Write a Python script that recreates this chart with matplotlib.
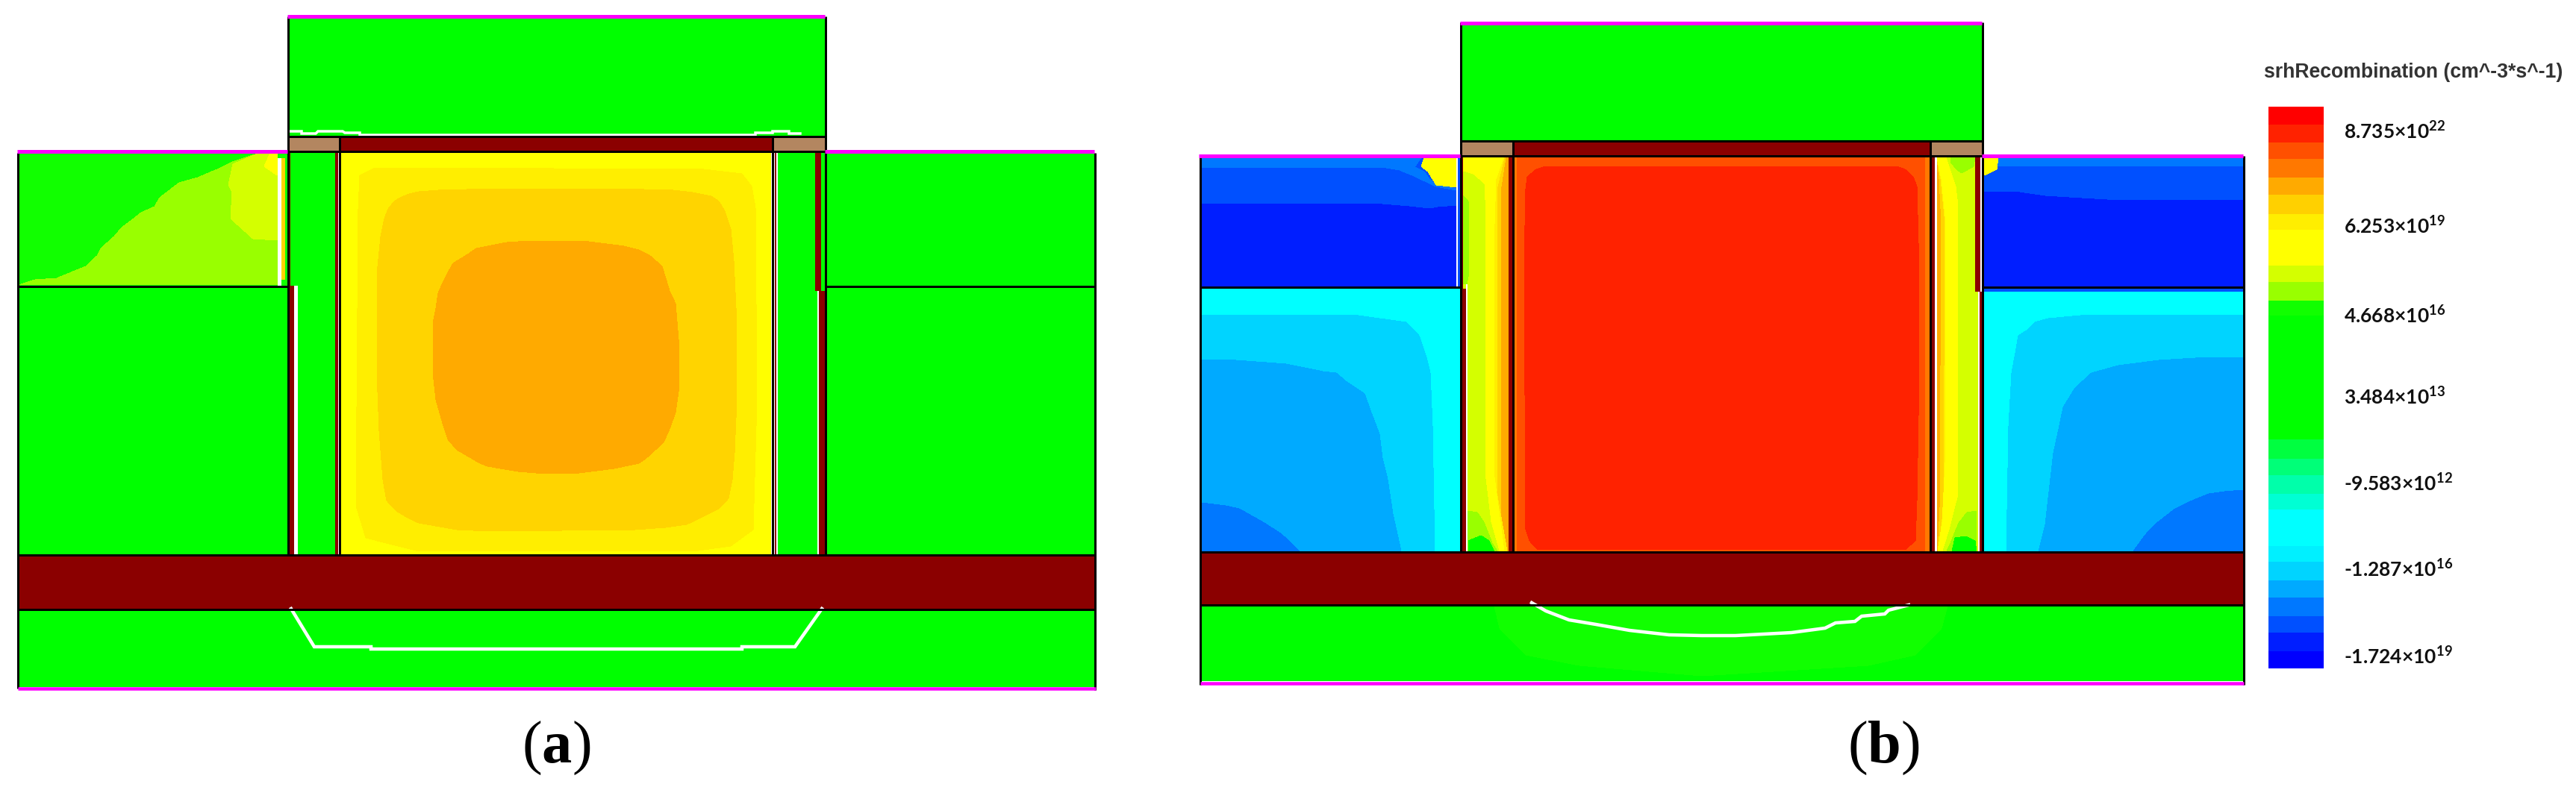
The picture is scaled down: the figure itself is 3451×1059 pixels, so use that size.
import matplotlib
matplotlib.use('Agg')
import matplotlib.pyplot as plt

plt.rcParams['mathtext.fontset'] = 'custom'
plt.rcParams['mathtext.bf'] = 'Liberation Serif:bold'
plt.rcParams['mathtext.default'] = 'regular'

GREEN = '#00FF00'; GREEN2 = '#11FF00'; LIME = '#99FF00'; LIME2 = '#D4FF00'
YEL = '#FFFF00'; YEL2 = '#FFEE00'; GOLD = '#FFD400'; ORANGE = '#FFAA00'; ORANGE2 = '#FF7800'
RED3 = '#FF5000'; RED2 = '#FF2200'
CYAN = '#00FFFF'; SKY = '#00D4FF'; SKY2 = '#00AAFF'; BLUE3 = '#0078FF'; BLUE2 = '#0050FF'; BLUE1 = '#001EFF'
DARKRED = '#8B0000'; BROWN = '#B38660'; MAGENTA = '#FF00FF'

# colour scale (edges in picture pixels)
bar_edges = [143, 167, 191, 213, 238, 261, 287, 308, 356, 378, 403, 423, 589,
             615, 637, 662, 683, 732, 753, 778, 801, 826, 848, 873, 896]
bar_colors = ['#FF0000', RED2, RED3, ORANGE2, ORANGE, '#FFD000', YEL2, YEL, LIME2, LIME, GREEN2, GREEN,
              '#00FF40', '#00FF78', '#00FFAA', '#00FFD4', CYAN, '#00F0FF', SKY, SKY2, BLUE3, BLUE2, BLUE1, '#0000FF']
bar_labels = ['8.735×10$^{22}$', '6.253×10$^{19}$', '4.668×10$^{16}$', '3.484×10$^{13}$',
              '-9.583×10$^{12}$', '-1.287×10$^{16}$', '-1.724×10$^{19}$']
bar_label_y = [176, 303, 423, 532, 648, 763, 880]

# (a) contour outlines of the field
a_core_yel2 = [(541, 225), (500, 226), (482, 235), (480, 280), (477, 678), (490, 721), (561, 739), (928, 739),
               (979, 732), (1009, 710), (1014, 536), (1012, 278), (1007, 250), (994, 233), (943, 227)]
a_core_gold = [(587, 255), (561, 257), (548, 260), (536, 265), (528, 270), (520, 280), (515, 293), (510, 317),
               (508, 337), (505, 367), (505, 500), (508, 578), (513, 643), (518, 671), (531, 685), (546, 694),
               (561, 701), (612, 710), (656, 712), (851, 710), (892, 707), (920, 703), (943, 692), (963, 682),
               (976, 668), (981, 643), (984, 607), (987, 536), (986, 413), (983, 350), (979, 307), (971, 283),
               (963, 270), (953, 263), (928, 258), (902, 255), (823, 253), (663, 253)]
a_core_orange = [(709, 323), (679, 325), (663, 328), (638, 333), (628, 340), (607, 353), (599, 367), (594, 377),
                 (587, 393), (584, 413), (580, 433), (580, 500), (584, 536), (594, 571), (600, 589), (612, 603),
                 (643, 621), (653, 625), (694, 632), (730, 635), (776, 634), (823, 628), (856, 621), (866, 614),
                 (889, 593), (897, 575), (905, 553), (910, 518), (910, 467), (905, 407), (897, 390), (887, 357),
                 (871, 343), (856, 335), (836, 330), (813, 327), (781, 323)]
a_left_lime = [(25, 382), (47, 375), (76, 373), (115, 357), (130, 343), (135, 333), (153, 317), (163, 305),
               (179, 293), (189, 285), (207, 277), (214, 265), (240, 245), (265, 238), (291, 227), (311, 217),
               (342, 207), (367, 205), (372, 205), (372, 382)]
a_left_lime2 = [(362, 205), (347, 205), (312, 220), (306, 248), (311, 257), (309, 293), (339, 320), (372, 322), (372, 205)]
a_left_yel = [(362, 205), (354, 223), (371, 235), (372, 205)]
a_white_top = [(387, 176), (404, 176), (404, 179), (423, 179), (426, 176), (459, 176), (462, 178), (482, 178),
               (482, 181), (1012, 181), (1012, 178), (1035, 178), (1035, 176), (1057, 176), (1057, 179), (1072, 179)]
a_white_bottom = [(390, 816), (421, 867), (497, 867), (497, 870), (994, 870), (994, 867), (1065, 867), (1101, 816)]

# (b) contour outlines of the field
b_core_red = [(2071, 223), (2058, 227), (2046, 237), (2044, 253), (2042, 350), (2044, 710), (2049, 725), (2060, 737),
              (2552, 737), (2566, 725), (2568, 671), (2571, 500), (2570, 325), (2568, 250), (2563, 237), (2552, 227), (2541, 223)]
b_ul_band2 = [(1609, 211), (1951, 211), (1951, 275), (1926, 277), (1915, 279), (1888, 276), (1852, 273), (1609, 273)]
b_ul_band3 = [(1609, 211), (1904, 211), (1895, 224), (1908, 230), (1915, 240), (1924, 248), (1951, 253), (1951, 255),
              (1924, 250), (1892, 235), (1875, 228), (1857, 225), (1609, 225)]
b_ul_yel = [(1908, 211), (1904, 223), (1913, 230), (1924, 248), (1951, 251), (1951, 211)]
b_ll_sky = [(1609, 422), (1812, 422), (1848, 427), (1884, 432), (1892, 440), (1901, 450), (1908, 470), (1912, 483),
            (1916, 500), (1919, 571), (1922, 739), (1609, 739)]
b_ll_sky2 = [(1609, 482), (1656, 483), (1723, 488), (1772, 498), (1790, 500), (1803, 511), (1828, 528), (1837, 553),
             (1848, 582), (1852, 614), (1859, 643), (1866, 689), (1877, 739), (1609, 739)]
b_ll_blue = [(1609, 674), (1642, 678), (1660, 682), (1692, 700), (1714, 714), (1727, 725), (1741, 739), (1609, 739)]
b_ur_yel = [(2658, 211), (2677, 211), (2675, 227), (2659, 235)]
b_ur_band2 = [(2658, 223), (3005, 223), (3005, 268), (2840, 268), (2789, 265), (2740, 262), (2706, 257), (2658, 256)]
b_lr_sky = [(3005, 422), (2798, 422), (2744, 427), (2726, 432), (2715, 443), (2704, 450), (2700, 473), (2695, 500),
            (2691, 571), (2688, 739), (3005, 739)]
b_lr_sky2 = [(3005, 479), (2941, 480), (2892, 483), (2838, 490), (2802, 500), (2780, 520), (2764, 546), (2758, 575),
             (2751, 607), (2746, 650), (2740, 703), (2731, 739), (3005, 739)]
b_lr_blue = [(3005, 657), (2980, 659), (2959, 662), (2932, 673), (2914, 682), (2887, 703), (2874, 717), (2858, 739), (3005, 739)]
b_bot_green2 = [(2002, 812), (2609, 812), (2601, 842), (2566, 878), (2503, 892), (2280, 906), (2116, 892), (2044, 878), (2009, 842)]
b_white_curve = [(2052, 808), (2071, 819), (2102, 831), (2138, 837), (2183, 845), (2236, 851), (2280, 852), (2325, 852),
                 (2400, 848), (2445, 842), (2459, 835), (2485, 833), (2494, 826), (2525, 823), (2530, 818), (2557, 811)]

# (b) left fin
bl_gold = [(1960, 211), (2017, 211), (2011, 250), (2010, 690), (2018, 739), (1960, 739)]
bl_yel2 = [(1960, 211), (2015, 211), (2006, 250), (2005, 660), (2019, 739), (1960, 739)]
bl_yel = [(1960, 211), (2014, 211), (2004, 240), (2002, 300), (2002, 640), (2015, 739), (1960, 739)]
bl_lime2 = [(1960, 230), (1973, 234), (1988, 247), (1990, 290), (1990, 642), (1997, 700), (2008, 739), (1960, 739)]
bl_lime_top = [(1960, 262), (1967, 270), (1968, 365), (1965, 381), (1960, 381)]
bl_lime_bot = [(1966, 685), (1979, 687), (1988, 700), (1999, 728), (2006, 739), (1966, 739)]
bl_green = [(1967, 725), (1984, 718), (1995, 725), (2002, 739), (1967, 739)]

# (b) right fin
br_gold = [(2595, 211), (2652, 211), (2652, 739), (2596, 739), (2599, 680), (2601, 300), (2598, 240)]
br_yel2 = [(2595, 211), (2652, 211), (2652, 739), (2597, 739), (2604, 680), (2606, 300), (2600, 240)]
br_yel = [(2595, 211), (2652, 211), (2652, 739), (2596, 739), (2602, 700), (2606, 620), (2607, 300), (2601, 240)]
br_lime2 = [(2608, 211), (2621, 250), (2623, 267), (2623, 667), (2612, 710), (2603, 739), (2652, 739), (2652, 211)]
br_lime_top = [(2613, 212), (2646, 211), (2644, 223), (2628, 232), (2621, 227), (2613, 217)]
br_lime_bot = [(2648, 685), (2635, 687), (2624, 701), (2613, 728), (2608, 739), (2648, 739)]
br_green = [(2615, 739), (2619, 721), (2633, 719), (2646, 725), (2648, 739)]

fig = plt.figure(figsize=(34.51, 10.59), dpi=100)
ax = fig.add_axes([0, 0, 1, 1])
ax.set_xlim(0, 3451); ax.set_ylim(1059, 0); ax.axis('off')


def poly(pts, c):
    xs, ys = zip(*pts)
    ax.fill(xs, ys, color=c, lw=0, antialiased=False)


def rect(x0, x1, y0, y1, c):
    poly([(x0, y0), (x1, y0), (x1, y1), (x0, y1)], c)


def vline(x, y0, y1, c='black', w=3):
    ax.plot([x, x], [y0, y1], color=c, lw=w * 0.72, solid_capstyle='butt')


def hline(y, x0, x1, c='black', w=3):
    ax.plot([x0, x1], [y, y], color=c, lw=w * 0.72, solid_capstyle='butt')


def curve(pts, w=4.5):
    xs, ys = zip(*pts)
    ax.plot(xs, ys, color='white', lw=w * 0.72, solid_joinstyle='miter')


# ---- panel a
rect(386, 1106, 24, 183, GREEN)
rect(25, 385, 205, 383, GREEN2)
rect(25, 385, 385, 743, GREEN)
rect(1107, 1466, 205, 743, GREEN)
rect(386, 450, 205, 743, GREEN)
rect(1040, 1105, 205, 743, GREEN)
rect(457, 1033, 205, 743, YEL)
poly(a_core_yel2, YEL2)
poly(a_core_gold, GOLD)
poly(a_core_orange, ORANGE)
poly(a_left_lime, LIME)
poly(a_left_lime2, LIME2)
poly(a_left_yel, YEL)
rect(372, 377, 212, 383, 'white')
rect(377, 382, 212, 375, GOLD)
rect(25, 1466, 744, 816, DARKRED)
rect(25, 1466, 818, 921, GREEN)
rect(386, 455, 184, 203, BROWN)
rect(1034, 1105, 184, 203, BROWN)
rect(455, 1034, 184, 203, DARKRED)
rect(387, 389, 205, 383, DARKRED)
rect(387, 394, 383, 743, DARKRED)
rect(394, 399, 383, 743, 'white')
rect(449, 453, 205, 743, DARKRED)
rect(1038, 1040, 205, 743, DARKRED)
rect(1040, 1042, 205, 743, 'white')
rect(1092, 1100, 205, 390, DARKRED)
rect(1095, 1097, 390, 743, 'white')
rect(1097, 1105, 390, 743, DARKRED)
curve(a_white_top, 3.5)
curve(a_white_bottom)
for x, y0, y1 in [(24, 205, 923), (386, 22, 743), (455, 184, 743), (1035, 184, 743), (1106, 22, 743), (1467, 205, 925)]:
    vline(x, y0, y1)
for y, x0, x1 in [(183, 386, 1106), (203, 386, 1106), (384, 24, 386), (384, 1106, 1467), (743.5, 24, 1467), (816.5, 24, 1467)]:
    hline(y, x0, x1)
hline(22, 385, 1105, MAGENTA, 5)
hline(202.5, 23, 385, MAGENTA, 5)
hline(202.5, 1105, 1466, MAGENTA, 5)
hline(923, 24, 1468, MAGENTA, 4.5)

# ---- panel b
rect(1957, 2656, 33, 188, GREEN)
rect(1609, 1951, 211, 385, BLUE1)
poly(b_ul_band2, BLUE2)
poly(b_ul_band3, BLUE3)
poly(b_ul_yel, YEL)
rect(1951, 1953, 225, 381, 'white')
rect(1953, 1957, 211, 385, BLUE2)
rect(1609, 1956, 387, 739, CYAN)
poly(b_ll_sky, SKY)
poly(b_ll_sky2, SKY2)
poly(b_ll_blue, BLUE3)
rect(2658, 3005, 211, 385, BLUE1)
rect(2658, 3005, 211, 223, BLUE3)
poly(b_ur_band2, BLUE2)
poly(b_ur_yel, YEL)
rect(2658, 3005, 386, 391, BLUE2)
rect(2658, 3005, 391, 739, CYAN)
poly(b_lr_sky, SKY)
poly(b_lr_sky2, SKY2)
poly(b_lr_blue, BLUE3)

# core
rect(2028, 2585, 211, 739, RED3)
rect(2028, 2032, 211, 739, ORANGE2)
rect(2579, 2585, 211, 739, ORANGE2)
poly(b_core_red, RED2)

# fins
rect(1960, 2021, 211, 739, ORANGE)
for pts, c in [(bl_gold, GOLD), (bl_yel2, YEL2), (bl_yel, YEL), (bl_lime2, LIME2), (bl_lime_top, LIME),
               (bl_lime_bot, LIME), (bl_green, GREEN)]:
    poly(pts, c)
rect(2594, 2652, 211, 739, ORANGE)
for pts, c in [(br_gold, GOLD), (br_yel2, YEL2), (br_yel, YEL), (br_lime2, LIME2), (br_lime_top, LIME),
               (br_lime_bot, LIME), (br_green, GREEN)]:
    poly(pts, c)

rect(1607, 3006, 740, 810, DARKRED)
rect(1609, 3005, 811, 913, GREEN)
poly(b_bot_green2, GREEN2)
rect(1958, 2026, 190, 208, BROWN)
rect(2587, 2655, 190, 208, BROWN)
rect(2026, 2587, 190, 208, DARKRED)
rect(1958, 1960, 211, 387, DARKRED)
rect(1958, 1964, 387, 739, DARKRED)
rect(1964, 1966, 381, 739, 'white')
rect(2021, 2026, 211, 739, DARKRED)
rect(2587, 2592, 211, 739, DARKRED)
rect(2593, 2595, 211, 739, 'white')
rect(2646, 2653, 211, 391, DARKRED)
rect(2650, 2652, 391, 739, 'white')
rect(2652, 2655, 391, 739, DARKRED)
curve(b_white_curve)
for x, y0, y1 in [(1608, 209, 918), (1957, 30, 739), (2027, 190, 739), (2586, 190, 739), (2656, 30, 739), (3006, 209, 918)]:
    vline(x, y0, y1)
for y, x0, x1 in [(188.5, 1957, 2656), (208.5, 1957, 2656), (385, 1608, 1957), (385, 2656, 3006), (739.5, 1608, 3006), (810.5, 1608, 3006)]:
    hline(y, x0, x1)
hline(30.5, 1956, 2655, MAGENTA, 5)
hline(208.5, 1606, 1956, MAGENTA, 5)
hline(208.5, 2655, 3005, MAGENTA, 5)
hline(915.5, 1608, 3006, MAGENTA, 4.5)

# ---- colour scale
for i in range(len(bar_colors)):
    ax.bar(3076, bar_edges[i + 1] - bar_edges[i], width=74, bottom=bar_edges[i], color=bar_colors[i], lw=0)
ax.text(3033, 97, 'srhRecombination (cm^-3*s^-1)', fontsize=19.2, family='Liberation Sans', weight='bold',
        color='#333333', va='center', ha='left')
for lab, y in zip(bar_labels, bar_label_y):
    ax.text(3140, y, lab, fontsize=19, family='Lato', weight='bold', color='#111111', va='center', ha='left')

ax.text(745, 1003, r'($\mathbf{a}$)', fontsize=58, family='Liberation Serif', ha='center', va='center')
ax.text(2523, 1003, r'($\mathbf{b}$)', fontsize=58, family='Liberation Serif', ha='center', va='center')

plt.savefig('out.png', dpi=100)
